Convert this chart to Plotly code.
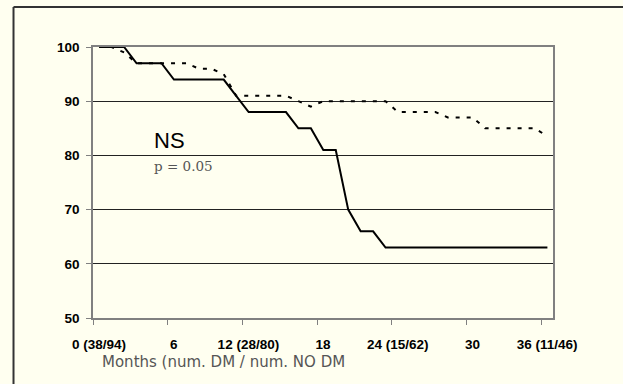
import plotly.graph_objects as go

months = list(range(0, 37))
dm = [100, 100, 100, 97, 97, 97, 94, 94, 94, 94, 94, 91, 88, 88, 88, 88, 85, 85, 81, 81,
      70, 66, 66, 63, 63, 63, 63, 63, 63, 63, 63, 63, 63, 63, 63, 63, 63]
no_dm = [100, 100, 99, 97, 97, 97, 97, 97, 96, 96, 95, 91, 91, 91, 91, 91, 90, 89, 90, 90,
         90, 90, 90, 90, 88, 88, 88, 88, 87, 87, 87, 85, 85, 85, 85, 85, 83.5]
tick_vals = [0, 6, 12, 18, 24, 30, 36]
tick_text = ["0 (38/94)", "6", "12 (28/80)", "18", "24 (15/62)", "30", "36 (11/46)"]
y_ticks = [50, 60, 70, 80, 90, 100]

# points sit at the centre of each monthly category
xs = [m + 0.5 for m in months]

fig = go.Figure()
fig.add_trace(go.Scatter(x=xs, y=no_dm, mode="lines",
                         line=dict(color="black", width=2, dash="4px,7px"),
                         showlegend=False, hoverinfo="skip"))
fig.add_trace(go.Scatter(x=xs, y=dm, mode="lines",
                         line=dict(color="black", width=2),
                         showlegend=False, hoverinfo="skip"))

bg = "#FFFFF0"
border = dict(color="#333333", width=2)
fig.update_layout(
    width=623, height=384,
    margin=dict(l=93, r=70, t=47, b=66),
    paper_bgcolor=bg, plot_bgcolor=bg,
    xaxis=dict(range=[0, 36.95], tickvals=tick_vals, ticktext=tick_text,
               showgrid=False, zeroline=False, showline=True, linecolor="#808080",
               linewidth=1.5, mirror=True, ticks="outside", ticklen=5, tickcolor="#808080",
               ticklabelshift=6, ticklabelstandoff=8,
               tickfont=dict(family="Liberation Sans", size=13.5, color="black", weight="bold")),
    yaxis=dict(range=[50, 100], tickvals=y_ticks, showgrid=True, gridcolor="#222222",
               gridwidth=1, zeroline=False, showline=True, linecolor="#808080",
               linewidth=1.5, mirror=True, ticks="outside", ticklen=5, tickcolor="#808080",
               ticklabelstandoff=4,
               tickfont=dict(family="Liberation Sans", size=13.5, color="black", weight="bold")),
    shapes=[
        dict(type="line", xref="paper", yref="paper", x0=-0.1728, x1=-0.1728,
             y0=-0.3, y1=1.1476, line=border, layer="below"),
        dict(type="line", xref="paper", yref="paper", x0=-0.1728, x1=1.2,
             y0=1.1476, y1=1.1476, line=border, layer="below"),
    ],
    annotations=[
        dict(x=6.16, y=82.7, xref="x", yref="y", text="NS", showarrow=False,
             font=dict(family="Liberation Sans", size=22, color="black")),
        dict(x=7.3, y=78.0, xref="x", yref="y", text="p = 0.05", showarrow=False,
             font=dict(family="DejaVu Serif", size=13.5, color="#555555")),
        dict(x=0.015, y=-0.162, xref="paper", yref="paper", text="Months (num. DM / num. NO DM",
             showarrow=False, xanchor="left", yanchor="middle",
             font=dict(family="DejaVu Sans", size=15, color="#555555")),
    ],
)

fig.write_html("out.html", config={"displayModeBar": False})
